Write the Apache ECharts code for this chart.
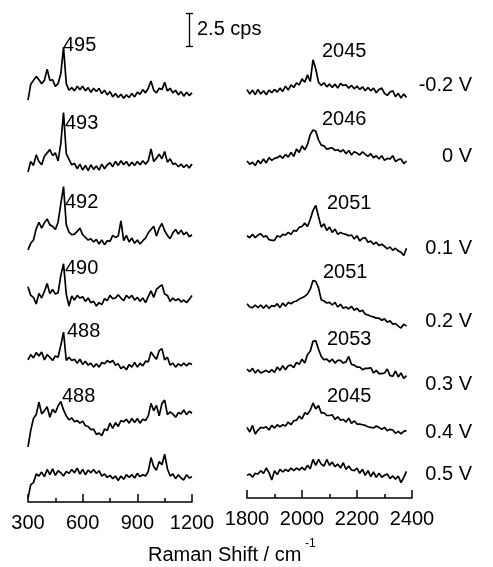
<!DOCTYPE html>
<html>
<head>
<meta charset="utf-8">
<script src="https://cdn.jsdelivr.net/npm/echarts@6.0.0/dist/echarts.min.js"></script>
<style>
html, body { margin: 0; padding: 0; background: #fff; }
#chart { width: 493px; height: 567px; }
</style>
</head>
<body>
<div id="chart"></div>
<script>
// potentials and peak positions (cm-1)
var voltages = ['-0.2 V', '0 V', '0.1 V', '0.2 V', '0.3 V', '0.4 V', '0.5 V'];
var lowPeaks = ['495', '493', '492', '490', '488', '488'];
var highPeaks = ['2045', '2046', '2051', '2051', '2053', '2045'];

// low range 300..1200 cm-1, step 15 ; high range 1800..2380 cm-1, step 10
var lowStart = 300, lowStep = 15;
var highStart = 1800, highStep = 10;
var scaleBar = 2.5; // cps

// vertical offset of each trace (cps)
var lowOffsets = [31.08, 25.53, 19.72, 15.17, 10.38, 5.83, 1.92];
var highOffsets = [30.8, 25.38, 19.82, 14.52, 9.72, 5.3, 2.02];

// intensities (cps, relative to each trace baseline)
var lowM02 = [-0.6, 0.6, 0.9, 1.2, 0.95, 0.65, 0.9, 1.75, 0.9, 0.95, 0.45, 0.65, 1.4, 3.4, 0.65, 0.15, 0.35, 0.1, 0.45, 0.2, 0.45, 0.1, 0.35, 0.0, 0.3, 0.05, 0.3, -0.1, 0.15, -0.2, 0.05, -0.35, -0.1, -0.4, -0.15, -0.45, -0.2, -0.4, -0.1, -0.35, 0.0, -0.15, 0.2, -0.05, 0.3, 0.85, 0.15, -0.05, 0.3, 0.2, 0.75, 0.1, 0.3, -0.05, 0.15, -0.2, 0.05, -0.3, 0.0, -0.25, -0.05];
var low0 = [-0.5, 0.3, 0.0, 0.8, 0.3, 0.05, 0.7, 0.95, 1.2, 0.75, 0.95, 0.35, 1.65, 4.0, 0.9, 0.45, 0.05, 0.15, -0.25, 0.1, -0.35, 0.0, -0.4, 0.05, -0.3, -0.05, -0.35, 0.1, -0.25, 0.05, 0.2, -0.1, 0.3, 0.0, 0.35, 0.05, 0.3, -0.05, 0.25, 0.0, 0.3, 0.05, 0.35, 0.1, 0.35, 1.25, 0.3, 0.55, 0.85, 0.5, 1.05, 0.25, 0.5, 0.1, 0.15, -0.1, 0.1, -0.15, 0.05, -0.2, 0.1];
var low01 = [-0.6, -0.1, 0.15, 1.0, 1.5, 1.05, 1.45, 1.75, 1.3, 1.2, 0.95, 1.5, 2.9, 4.2, 1.3, 0.75, 0.55, 0.6, 0.8, 1.05, 0.55, 0.35, 0.15, 0.25, 0.0, 0.2, -0.15, 0.15, -0.2, 0.1, 0.05, 0.5, 0.35, 0.45, 1.6, 0.1, 0.5, 0.0, 0.3, -0.1, 0.15, -0.15, 0.1, 0.3, 0.7, 0.95, 1.2, 0.45, 1.05, 1.4, 0.85, 0.5, 0.25, 0.7, 0.95, 0.6, 0.9, 0.55, 0.75, 0.4, 0.55];
var low02 = [1.15, 0.5, 0.35, -0.15, 0.65, 0.3, 0.8, 1.4, 0.65, 0.95, 0.6, 0.7, 2.0, 2.9, 0.6, -0.3, 0.45, 0.15, 0.5, 0.3, 0.4, 0.05, 0.3, -0.05, 0.05, -0.3, -0.05, -0.2, 0.25, 0.1, 0.5, 0.25, 0.3, 0.55, 0.3, 0.1, 0.5, 0.3, 0.5, 0.15, 0.35, 0.05, 0.3, -0.05, 0.4, 0.85, 0.35, 0.95, 1.15, 1.3, 0.6, 0.5, 0.05, 0.3, 0.1, 0.25, 0.0, 0.15, -0.05, 0.2, 0.5];
var low03 = [0.4, 0.8, 0.55, 0.95, 0.7, 1.0, 0.4, 0.8, 0.6, 0.35, 0.7, 0.6, 1.5, 2.5, 0.35, 0.6, 0.35, 0.45, 0.15, 0.45, 0.05, 0.3, 0.0, 0.15, -0.15, 0.1, -0.15, 0.2, 0.1, 0.35, 0.2, 0.35, 0.0, 0.1, -0.25, -0.1, -0.35, 0.05, -0.15, 0.2, -0.15, 0.15, -0.05, 0.3, 0.25, 1.0, 0.7, 0.45, 1.1, 1.25, 0.4, 0.6, 0.0, 0.15, -0.15, 0.1, -0.05, 0.15, -0.05, 0.15, 0.05];
var low04 = [-1.65, -0.4, 0.5, 0.8, 1.75, 0.85, 1.1, 1.4, 0.6, 1.2, 0.95, 1.45, 1.8, 1.15, 0.7, 0.4, 0.55, 0.25, 0.35, 0.15, 0.3, -0.05, -0.1, -0.35, -0.3, -0.7, -0.6, -0.8, -0.3, -0.4, 0.15, -0.25, 0.2, -0.1, 0.35, 0.25, 0.45, 0.15, 0.5, 0.2, 0.5, 0.15, 0.45, 0.35, 0.7, 1.65, 1.1, 1.5, 0.7, 1.65, 1.9, 0.8, 1.0, 0.85, 0.6, 0.95, 0.85, 1.15, 0.8, 1.05, 0.9];
var low05 = [-1.65, -0.6, -0.45, 0.2, 0.05, 0.35, 0.0, 0.55, 0.15, 0.6, 0.1, 0.45, 0.3, 0.05, 0.4, 0.25, 0.55, 0.3, 0.65, 0.2, 0.55, 0.15, 0.5, 0.3, 0.55, 0.25, 0.45, 0.05, 0.2, -0.05, 0.1, -0.15, 0.05, -0.3, 0.05, -0.2, 0.15, -0.05, 0.15, -0.1, 0.25, 0.0, 0.15, 0.05, 0.4, 1.45, 0.75, 0.5, 1.15, 0.9, 1.7, 0.6, 0.05, 0.2, -0.15, 0.15, -0.1, -0.25, 0.15, -0.1, 0.0];

var highM02 = [0.15, -0.2, 0.1, -0.25, 0.15, -0.2, 0.05, -0.25, 0.1, -0.1, 0.15, -0.05, 0.25, 0.0, 0.4, 0.1, 0.5, 0.3, 0.65, 0.5, 0.95, 0.7, 1.25, 0.75, 2.4, 1.7, 0.7, 0.45, 0.65, 0.35, 0.55, 0.3, 0.55, 0.25, 0.6, 0.45, 0.5, 0.25, 0.45, 0.2, 0.4, 0.15, 0.35, 0.05, 0.3, 0.05, 0.25, -0.1, 0.15, 0.25, -0.15, -0.3, -0.05, 0.05, -0.4, -0.15, -0.5, -0.2, -0.45];
var high0 = [0.15, -0.1, 0.05, -0.2, 0.2, -0.05, 0.3, 0.0, 0.4, 0.2, 0.35, 0.4, 0.55, 0.35, 0.65, 0.45, 0.8, 0.5, 1.05, 0.8, 1.3, 1.0, 1.4, 2.15, 2.5, 2.4, 1.75, 1.35, 1.3, 1.05, 1.1, 1.15, 0.95, 1.0, 0.85, 1.0, 0.7, 0.95, 0.6, 0.85, 0.75, 0.6, 0.85, 0.65, 0.5, 0.7, 0.4, 0.55, 0.3, 0.55, 0.2, 0.35, 0.3, 0.55, 0.1, 0.25, 0.3, -0.05, 0.15];
var high01 = [0.05, -0.1, 0.15, -0.1, 0.1, 0.2, -0.05, 0.05, -0.25, -0.3, -0.3, 0.05, -0.05, 0.15, 0.1, 0.3, 0.15, 0.45, 0.4, 0.7, 0.75, 1.0, 0.75, 1.3, 1.95, 2.35, 1.5, 0.7, 0.95, 0.45, 0.7, 0.3, 0.55, 0.15, 0.3, 0.2, 0.15, 0.05, 0.1, -0.2, 0.05, -0.35, -0.15, -0.1, -0.45, -0.35, -0.6, -0.45, -0.7, -0.6, -0.75, -0.95, -0.8, -1.05, -0.9, -1.1, -1.2, -1.45, -0.9];
var high02 = [0.2, -0.05, -0.1, 0.1, -0.1, 0.1, -0.15, 0.1, -0.15, 0.05, 0.0, 0.2, -0.1, 0.25, 0.0, 0.3, 0.2, 0.35, 0.4, 0.55, 0.65, 0.75, 0.95, 1.3, 1.95, 1.9, 1.4, 0.5, 0.4, 0.25, 0.3, 0.1, 0.3, -0.05, 0.15, -0.15, -0.05, -0.2, 0.0, -0.3, -0.15, -0.4, -0.3, -0.6, -0.65, -0.75, -0.8, -0.9, -0.9, -1.05, -0.95, -1.2, -1.1, -1.35, -1.3, -1.5, -1.65, -1.35, -1.5];
var high03 = [0.05, -0.15, 0.1, -0.25, 0.0, -0.25, -0.15, -0.05, -0.2, 0.0, -0.2, 0.2, -0.05, 0.3, 0.0, 0.3, 0.35, 0.15, 0.55, 0.4, 0.8, 0.5, 1.15, 1.4, 2.15, 2.2, 1.55, 1.0, 0.75, 0.8, 0.6, 0.8, 0.5, 0.7, 0.7, 0.5, 0.6, 1.0, 0.4, 0.35, 0.2, 0.2, 0.0, 0.1, 0.1, 0.15, -0.25, -0.05, -0.3, -0.3, -0.25, 0.05, -0.45, -0.5, -0.1, -0.55, -0.25, -0.65, -0.45];
var high04 = [0.05, -0.3, 0.2, -0.45, -0.15, 0.05, 0.0, 0.1, -0.15, 0.2, 0.0, 0.25, 0.1, 0.25, 0.15, 0.45, 0.25, 0.55, 0.6, 0.9, 0.7, 1.15, 1.05, 1.35, 1.9, 1.45, 1.7, 1.15, 1.15, 0.95, 0.95, 1.0, 0.65, 0.85, 0.6, 0.65, 0.45, 0.75, 0.35, 0.55, 0.3, 0.3, 0.25, 0.2, 0.1, 0.05, 0.0, 0.15, 0.05, -0.1, 0.05, -0.2, -0.1, -0.15, -0.4, -0.25, -0.45, -0.25, -0.2];
var high05 = [-0.3, -0.2, -0.45, -0.15, -0.2, 0.05, -0.15, 0.25, -0.1, -0.65, 0.05, -0.25, 0.15, -0.05, 0.15, 0.0, 0.25, 0.05, 0.25, 0.1, 0.3, 0.1, 0.45, 0.2, 0.9, 0.45, 0.9, 0.55, 0.4, 0.9, 0.45, 0.7, 0.35, 0.55, 0.25, 0.65, 0.15, 0.4, 0.1, 0.05, 0.25, -0.15, 0.15, -0.3, 0.05, -0.4, -0.05, -0.45, -0.15, -0.45, -0.3, -0.2, -0.55, -0.35, -0.6, -0.35, -0.85, -0.45, 0];

var lowSpectra = [lowM02, low0, low01, low02, low03, low04, low05];
var highSpectra = [highM02, high0, high01, high02, high03, high04, high05];

var FONT = "'Liberation Sans', Arial, sans-serif";
var chart = echarts.init(document.getElementById('chart'));

function toSeries(values, start, step, offset, axis) {
    return {
        type: 'line',
        xAxisIndex: axis,
        yAxisIndex: axis,
        showSymbol: false,
        symbol: 'none',
        silent: true,
        lineStyle: { color: '#000', width: 1.7 },
        data: values.map(function (v, i) { return [start + step * i, +(offset + v).toFixed(3)]; })
    };
}

var series = [];
lowSpectra.forEach(function (s, k) { series.push(toSeries(s, lowStart, lowStep, lowOffsets[k], 0)); });
highSpectra.forEach(function (s, k) { series.push(toSeries(s, highStart, highStep, highOffsets[k], 1)); });

function xAxisOf(grid, min, max, interval) {
    return {
        type: 'value', gridIndex: grid, min: min, max: max, interval: interval,
        axisLine: { show: true, onZero: false, lineStyle: { color: '#000', width: 1.5 } },
        axisTick: { show: true, inside: true, length: 8, lineStyle: { color: '#000', width: 1.5 } },
        minorTick: { show: true, splitNumber: 2, length: 4, lineStyle: { color: '#000', width: 1.5 } },
        axisLabel: { color: '#000', fontSize: 20, fontFamily: FONT, margin: 11,
            formatter: function (v) { return String(v); } },
        splitLine: { show: false }
    };
}

// peak label and potential label positions (px)
var lowLabelPos = [[63, 45], [65, 123], [65, 202], [65, 268], [67, 331], [62, 396]];
var highLabelPos = [[322, 51], [322, 119], [327, 203], [323, 272], [327, 339], [327, 396]];
var voltY = [85, 156, 248, 321, 384, 432, 474];

var graphic = [];
function txt(s, x, y, align) {
    return { type: 'text', x: x, y: y, style: { text: s, fill: '#000', font: '20px ' + FONT, textAlign: align || 'left', textVerticalAlign: 'middle' } };
}
lowPeaks.forEach(function (s, k) { graphic.push(txt(s, lowLabelPos[k][0], lowLabelPos[k][1])); });
highPeaks.forEach(function (s, k) { graphic.push(txt(s, highLabelPos[k][0], highLabelPos[k][1])); });
voltages.forEach(function (s, k) { graphic.push(txt(s, 472, voltY[k], 'right')); });
graphic.push(txt('Raman Shift / cm', 148, 555));
graphic.push({ type: 'text', x: 305, y: 544, style: { text: '-1', fill: '#000', font: '12px ' + FONT, textVerticalAlign: 'middle' } });

chart.setOption({
    animation: false,
    backgroundColor: '#fff',
    grid: [
        { left: 28, width: 164, top: 1, bottom: 65 },
        { left: 247, width: 165, top: 1, bottom: 69 }
    ],
    xAxis: [xAxisOf(0, 300, 1200, 300), xAxisOf(1, 1800, 2400, 200)],
    yAxis: [
        { type: 'value', gridIndex: 0, min: 0, max: 38, show: false, splitLine: { show: false } },
        { type: 'value', gridIndex: 1, min: 0, max: 37.65, show: false, splitLine: { show: false } }
    ],
    series: series,
    graphic: graphic
});

// 2.5 cps scale bar, sized through the y axis of the left panel
var yTop = chart.convertToPixel({ yAxisIndex: 0 }, 37.05);
var yBot = chart.convertToPixel({ yAxisIndex: 0 }, 37.05 - scaleBar);
graphic.push(
    { type: 'line', shape: { x1: 189.5, y1: yTop, x2: 189.5, y2: yBot }, style: { stroke: '#000', lineWidth: 1.3 } },
    { type: 'line', shape: { x1: 186, y1: yTop, x2: 193, y2: yTop }, style: { stroke: '#000', lineWidth: 1.3 } },
    { type: 'line', shape: { x1: 186, y1: yBot, x2: 193, y2: yBot }, style: { stroke: '#000', lineWidth: 1.3 } },
    txt(scaleBar + ' cps', 197, 29)
);
chart.setOption({ graphic: graphic });
</script>
</body>
</html>
